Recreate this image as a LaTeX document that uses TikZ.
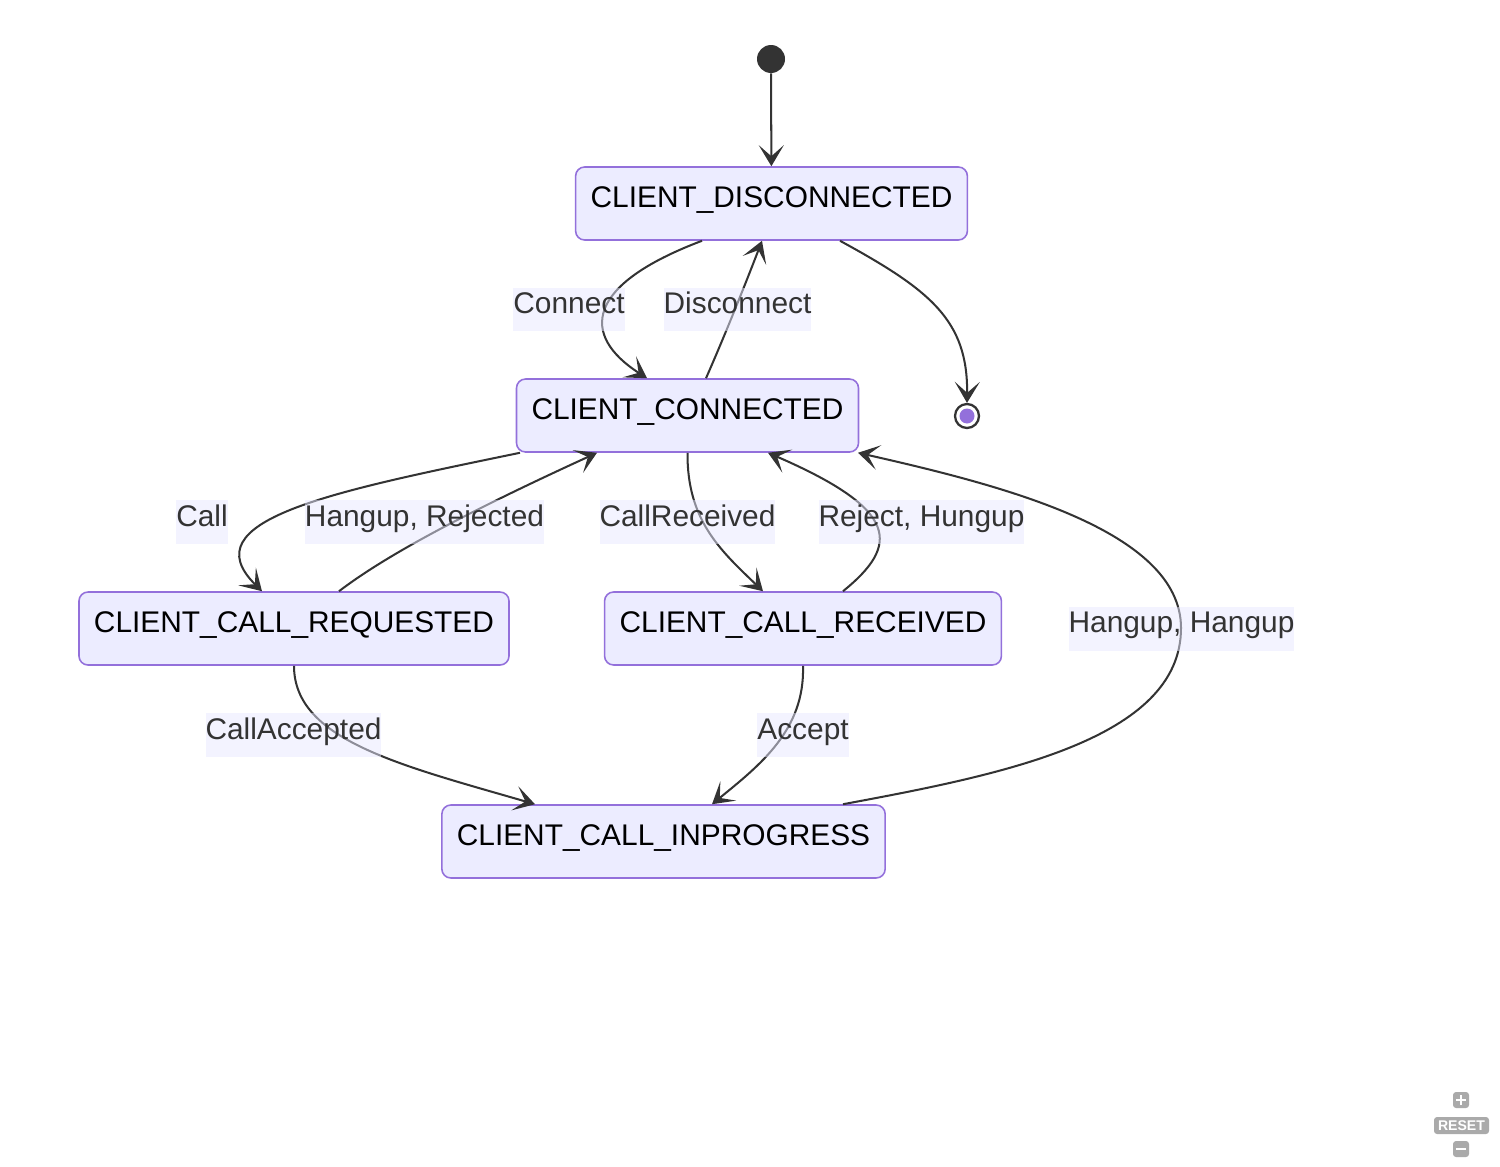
\documentclass[tikz,border=0pt]{standalone}
\usepackage{fontspec}
\setmainfont{Liberation Sans}
\usetikzlibrary{arrows.meta,calc}
\definecolor{stfill}{RGB}{236,236,255}
\definecolor{stdraw}{RGB}{147,112,219}
\definecolor{edgecol}{RGB}{51,51,51}
\definecolor{lblfill}{RGB}{232,232,255}
\definecolor{ctlgray}{RGB}{170,170,170}
\begin{document}
\begin{tikzpicture}[x=0.02cm,y=-0.02cm,
    state/.style={draw=stdraw,fill=stfill,line width=0.9pt,rounded corners=0.18cm,
      minimum height=1.46cm,inner xsep=0.3cm,text height=0.75em,text depth=0.24em,
      font=\fontsize{17}{20}\selectfont,text=black},
    lbl/.style={fill=lblfill,fill opacity=0.5,text opacity=1,text=edgecol,inner xsep=0pt,
      minimum height=0.88cm,text height=0.75em,text depth=0.24em,font=\fontsize{17}{20}\selectfont},
    trans/.style={draw=edgecol,line width=1.15pt,-{Stealth[length=0.42cm,width=0.5cm,inset=0.22cm]}},
    ctl/.style={fill=ctlgray,rounded corners=0.06cm,text=white,inner sep=1pt,font=\bfseries\fontsize{8}{9}\selectfont}]
  \useasboundingbox (0,0) rectangle (1500,1166);
  \node[circle,fill=edgecol,minimum size=0.56cm,inner sep=0pt] (start) at (771,59) {};
  \node[state] (dis) at (771.5,203.5) {CLIENT\_DISCONNECTED};
  \node[state] (con) at (687.5,415.5) {CLIENT\_CONNECTED};
  \node[circle,draw=edgecol,line width=1.3pt,fill=white,minimum size=0.48cm,inner sep=0pt] (stop) at (967,416) {};
  \node[circle,fill=stdraw,minimum size=0.3cm,inner sep=0pt] at (stop) {};
  \node[state] (req) at (294,628.5) {CLIENT\_CALL\_REQUESTED};
  \node[state] (rec) at (803,628.5) {CLIENT\_CALL\_RECEIVED};
  \node[state] (inp) at (663.5,841.5) {CLIENT\_CALL\_INPROGRESS};
  \draw[trans] (start) -- (dis);
  \draw[trans] ($(dis.south)+(-69.5,0)$) .. controls (585,285) and (580,335) .. ($(con.north)+(-40.5,0)$);
  \draw[trans] ($(con.north)+(18.5,0)$) .. controls (725,335) and (745,285) .. ($(dis.south)+(-9.5,0)$);
  \draw[trans] ($(dis.south)+(68.5,0)$) .. controls (930,290) and (968,320) .. (stop.north);
  \draw[trans] ($(con.south)+(-167.5,0)$) .. controls (330,492) and (190,520) .. ($(req.north)+(-32,0)$);
  \draw[trans] ($(req.north)+(45,0)$) .. controls (380,560) and (450,520) .. ($(con.south)+(-90.5,0)$);
  \draw[trans] (con.south) .. controls (687,520) and (720,550) .. ($(rec.north)+(-40,0)$);
  \draw[trans] ($(rec.north)+(40,0)$) .. controls (900,545) and (900,510) .. ($(con.south)+(80.5,0)$);
  \draw[trans] (req.south) .. controls (294,740) and (400,765) .. ($(inp.north)+(-128.5,0)$);
  \draw[trans] (rec.south) .. controls (805,730) and (760,765) .. ($(inp.north)+(48.5,0)$);
  \draw[trans] ($(inp.north)+(179.5,0)$) .. controls (1000,775) and (1181,740) .. (1181,628)
    .. controls (1181,530) and (1000,485) .. ($(con.south)+(170.5,0)$);
  \node[lbl] (lconn) at (569,309.5) {Connect};
  \node[lbl] (ldisc) at (737.5,309.5) {Disconnect};
  \node[lbl] (lcall) at (202,522) {Call};
  \node[lbl] (lhrej) at (424.5,522) {Hangup, Rejected};
  \node[lbl] (lcrec) at (687.5,522) {CallReceived};
  \node[lbl] (lrejh) at (921.5,522) {Reject, Hungup};
  \node[lbl] (lhh) at (1181.5,628.5) {Hangup, Hangup};
  \node[lbl] (lcacc) at (293.5,735) {CallAccepted};
  \node[lbl] (lacc) at (803,735) {Accept};
  \node[ctl,minimum size=0.32cm] (zin) at (1461,1100) {};
  \draw[white,line width=1.6pt] ($(zin)+(-5,0)$) -- ($(zin)+(5,0)$) ($(zin)+(0,-5)$) -- ($(zin)+(0,5)$);
  \node[ctl,minimum width=1.1cm,minimum height=0.34cm] (zreset) at (1461.5,1125.5) {RESET};
  \node[ctl,minimum size=0.32cm] (zout) at (1461,1149) {};
  \draw[white,line width=1.6pt] ($(zout)+(-5,0)$) -- ($(zout)+(5,0)$);
\end{tikzpicture}
\end{document}
